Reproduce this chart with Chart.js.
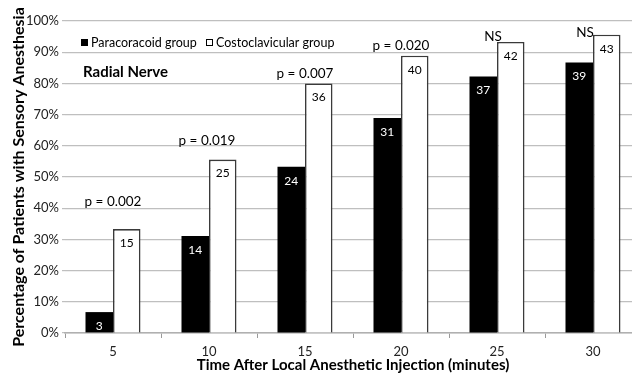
<!DOCTYPE html>
<html>
<head>
<meta charset="utf-8">
<script src="https://cdn.jsdelivr.net/npm/chart.js@4/dist/chart.umd.min.js"></script>
<style>
  html, body { margin: 0; padding: 0; background: #fff; overflow: hidden; }
  #wrap { width: 645px; height: 377px; }
</style>
</head>
<body>
<div id="wrap"><canvas id="chartCanvas" width="645" height="377"></canvas></div>
<script>
// time points (minutes)
const times = ['5', '10', '15', '20', '25', '30'];
// percentage of patients with sensory anesthesia
const paraPct = [6.7, 31.1, 53.3, 68.9, 82.2, 86.7];
const costoPct = [33.3, 55.6, 80.0, 88.9, 93.3, 95.6];
// patient counts shown inside the bars
const paraN = [3, 14, 24, 31, 37, 39];
const costoN = [15, 25, 36, 40, 42, 43];
// significance labels above each pair
const pLabels = ['p = 0.002', 'p = 0.019', 'p = 0.007', 'p = 0.020', 'NS', 'NS'];
const pLift = [27, 19, 10, 10, 5, 2];   // px above the costoclavicular bar
const pShift = [0, -2, 0, 0, -4, -8];   // px horizontal nudge

const FONT = 'Lato, "Open Sans", sans-serif';

const labelPlugin = {
  id: 'barLabels',
  afterDatasetsDraw(chart) {
    const ctx = chart.ctx;
    const counts = [paraN, costoN];
    ctx.save();
    ctx.font = '12px ' + FONT;
    ctx.textAlign = 'center';
    ctx.textBaseline = 'middle';
    counts.forEach((arr, di) => {
      const meta = chart.getDatasetMeta(di);
      meta.data.forEach((bar, i) => {
        ctx.fillStyle = di === 0 ? '#ffffff' : '#000000';
        ctx.fillText(String(arr[i]), bar.x, bar.y + 14);
      });
    });

    // p-values
    const costoMeta = chart.getDatasetMeta(1);
    ctx.font = '13.5px ' + FONT;
    ctx.fillStyle = '#000';
    costoMeta.data.forEach((bar, i) => {
      const cx = chart.scales.x.getPixelForValue(i) + pShift[i];
      ctx.fillText(pLabels[i], cx, bar.y - pLift[i]);
    });

    // legend + panel title
    const a = chart.chartArea;
    ctx.textAlign = 'left';
    ctx.font = '12.5px ' + FONT;
    ctx.fillStyle = '#000';
    ctx.fillRect(a.left + 16, 39, 7, 7);
    ctx.fillText('Paracoracoid group', a.left + 26, 42.5);
    ctx.fillStyle = '#fff';
    ctx.strokeStyle = '#000';
    ctx.lineWidth = 1;
    ctx.fillRect(a.left + 141, 39, 7, 7);
    ctx.strokeRect(a.left + 141.5, 39.5, 6, 6);
    ctx.fillStyle = '#000';
    ctx.fillText('Costoclavicular group', a.left + 151, 42.5);

    ctx.font = 'bold 15px ' + FONT;
    ctx.fillText('Radial Nerve', a.left + 18, 72);
    ctx.restore();
  }
};

new Chart(document.getElementById('chartCanvas').getContext('2d'), {
  type: 'bar',
  data: {
    labels: times,
    datasets: [
      {
        label: 'Paracoracoid group',
        data: paraPct,
        backgroundColor: '#000000',
        borderColor: '#000000',
        borderWidth: 0,
        categoryPercentage: 0.573,
        barPercentage: 1.0
      },
      {
        label: 'Costoclavicular group',
        data: costoPct,
        backgroundColor: '#ffffff',
        borderColor: '#3a3a3a',
        borderWidth: 1.6,
        categoryPercentage: 0.573,
        barPercentage: 1.0
      }
    ]
  },
  options: {
    responsive: false,
    animation: false,
    layout: { padding: { top: 21, right: 4, left: 0, bottom: 0 } },
    plugins: {
      legend: { display: false },
      tooltip: { enabled: false }
    },
    scales: {
      x: {
        grid: {
          display: true,
          drawOnChartArea: false,
          drawTicks: true,
          tickLength: 5,
          color: '#9a9a9a'
        },
        border: { display: true, color: '#b0b0b0', width: 1.5 },
        ticks: { color: '#222', font: { family: FONT, size: 13 }, padding: 6 },
        title: {
          display: true,
          text: 'Time After Local Anesthetic Injection (minutes)',
          color: '#000',
          font: { family: FONT, size: 15, weight: 'bold' },
          padding: { top: 0, bottom: 3 }
        },
        afterFit(scale) { scale.height = 44; }
      },
      y: {
        min: 0,
        max: 100,
        ticks: {
          stepSize: 10,
          color: '#222',
          font: { family: FONT, size: 13 },
          padding: 3,
          callback: v => v + '%'
        },
        grid: { color: '#bfbfbf', lineWidth: 1.2, tickLength: 3 },
        border: { display: false },
        title: {
          display: true,
          text: 'Percentage of Patients with Sensory Anesthesia',
          color: '#000',
          font: { family: FONT, size: 16, weight: 'bold' },
          padding: { top: 9, bottom: 2 }
        },
        afterFit(scale) { scale.width = 65; }
      }
    }
  },
  plugins: [labelPlugin]
});
</script>
</body>
</html>
